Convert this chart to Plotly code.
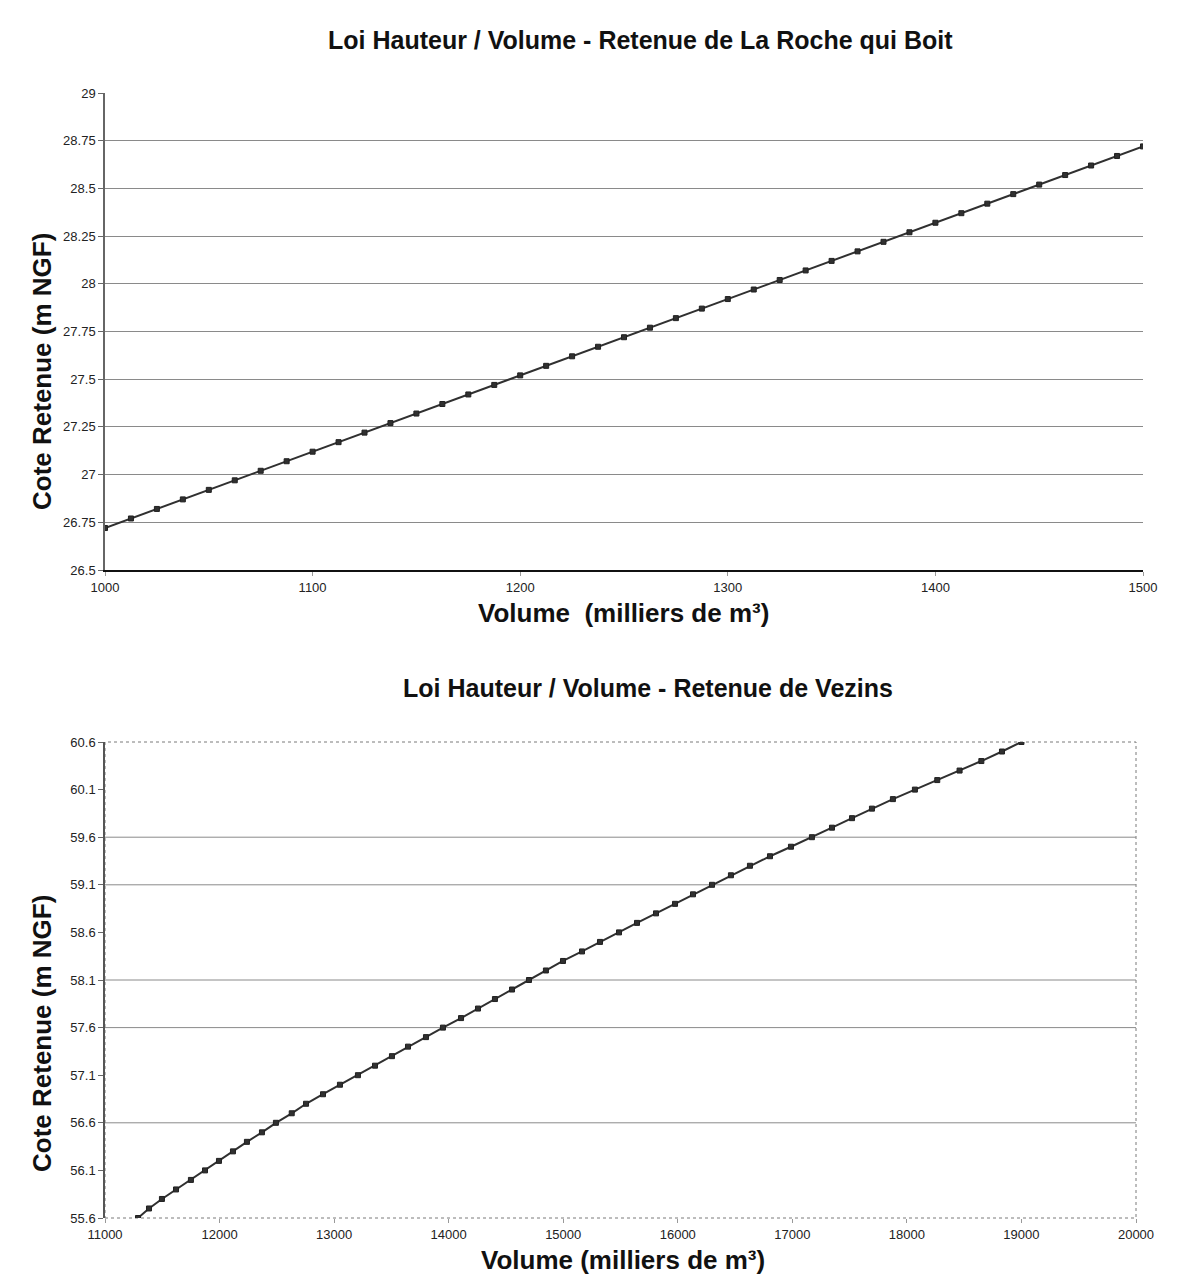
import plotly.graph_objects as go

# --- Retenue de La Roche qui Boit : volume (milliers de m3) / cote (m NGF)
roche_volume = [1000, 1012.5, 1025, 1037.5, 1050, 1062.5, 1075, 1087.5, 1100, 1112.5,
                1125, 1137.5, 1150, 1162.5, 1175, 1187.5, 1200, 1212.5, 1225, 1237.5,
                1250, 1262.5, 1275, 1287.5, 1300, 1312.5, 1325, 1337.5, 1350, 1362.5,
                1375, 1387.5, 1400, 1412.5, 1425, 1437.5, 1450, 1462.5, 1475, 1487.5, 1500]
roche_cote = [26.72, 26.77, 26.82, 26.87, 26.92, 26.97, 27.02, 27.07, 27.12, 27.17,
              27.22, 27.27, 27.32, 27.37, 27.42, 27.47, 27.52, 27.57, 27.62, 27.67,
              27.72, 27.77, 27.82, 27.87, 27.92, 27.97, 28.02, 28.07, 28.12, 28.17,
              28.22, 28.27, 28.32, 28.37, 28.42, 28.47, 28.52, 28.57, 28.62, 28.67, 28.72]
roche_yticks = [26.5, 26.75, 27, 27.25, 27.5, 27.75, 28, 28.25, 28.5, 28.75, 29]
roche_xticks = [1000, 1100, 1200, 1300, 1400, 1500]

# --- Retenue de Vezins
vezins_volume = [11288, 11384, 11497, 11620, 11750, 11873, 11995, 12117, 12239, 12370,
                 12492, 12630, 12755, 12903, 13051, 13208, 13357, 13505, 13645, 13802,
                 13950, 14108, 14256, 14404, 14553, 14701, 14849, 14998, 15164, 15321,
                 15487, 15644, 15810, 15976, 16133, 16299, 16464, 16630, 16805, 16988,
                 17171, 17346, 17521, 17695, 17878, 18070, 18265, 18460, 18650, 18830, 19000]
vezins_cote = [55.6, 55.7, 55.8, 55.9, 56.0, 56.1, 56.2, 56.3, 56.4, 56.5,
               56.6, 56.7, 56.8, 56.9, 57.0, 57.1, 57.2, 57.3, 57.4, 57.5,
               57.6, 57.7, 57.8, 57.9, 58.0, 58.1, 58.2, 58.3, 58.4, 58.5,
               58.6, 58.7, 58.8, 58.9, 59.0, 59.1, 59.2, 59.3, 59.4, 59.5,
               59.6, 59.7, 59.8, 59.9, 60.0, 60.1, 60.2, 60.3, 60.4, 60.5, 60.6]
vezins_yticks = [55.6, 56.1, 56.6, 57.1, 57.6, 58.1, 58.6, 59.1, 59.6, 60.1, 60.6]
vezins_xticks = [11000, 12000, 13000, 14000, 15000, 16000, 17000, 18000, 19000, 20000]
vezins_gridlines = [56.6, 57.6, 58.1, 59.1, 59.6]

FONT = "Liberation Sans, Arial, sans-serif"
TICK_FONT = dict(family=FONT, size=13, color="#222222")
W, H = 1204, 1275

fig = go.Figure()

line_style = dict(color="#303030", width=2)
marker_style = dict(symbol="square", size=5, color="#303030",
                    line=dict(color="#202020", width=1))

fig.add_trace(go.Scatter(x=roche_volume, y=roche_cote, mode="lines+markers",
                         line=line_style, marker=marker_style,
                         xaxis="x", yaxis="y", showlegend=False))
fig.add_trace(go.Scatter(x=vezins_volume, y=vezins_cote, mode="lines+markers",
                         line=line_style, marker=marker_style,
                         xaxis="x2", yaxis="y2", showlegend=False))

def px_x(p):
    return p / W

def px_y(p):
    return 1 - p / H

fig.update_layout(
    width=W, height=H,
    margin=dict(l=0, r=0, t=0, b=0, autoexpand=False),
    paper_bgcolor="white", plot_bgcolor="white",
    font=dict(family=FONT, color="#111111"),
    xaxis=dict(domain=[px_x(105), px_x(1143)], anchor="y", automargin=False,
               range=[1000, 1500], tickvals=roche_xticks,
               ticktext=[f"{v:g}" for v in roche_xticks],
               showgrid=False, zeroline=False,
               showline=True, linecolor="#111111", linewidth=2,
               ticks="outside", ticklen=4, tickcolor="#999999",
               tickfont=TICK_FONT),
    yaxis=dict(domain=[px_y(570), px_y(93)], anchor="x", automargin=False,
               range=[26.5, 29], tickvals=roche_yticks,
               ticktext=[f"{v:g}" for v in roche_yticks],
               showgrid=True, gridcolor="#8a8a8a", gridwidth=1, zeroline=False,
               showline=True, linecolor="#666666", linewidth=1.5,
               ticks="outside", ticklen=5, tickcolor="#666666",
               tickfont=TICK_FONT),
    xaxis2=dict(domain=[px_x(105), px_x(1136)], anchor="y2", automargin=False,
                range=[11000, 20000], tickvals=vezins_xticks,
                ticktext=[f"{v:g}" for v in vezins_xticks],
                showgrid=False, zeroline=False, showline=False,
                ticks="outside", ticklen=4, tickcolor="#999999",
                tickfont=TICK_FONT),
    yaxis2=dict(domain=[px_y(1218), px_y(742)], anchor="x2", automargin=False,
                range=[55.6, 60.6], tickvals=vezins_yticks,
                ticktext=[f"{v:g}" for v in vezins_yticks],
                showgrid=False, zeroline=False,
                showline=True, linecolor="#555555", linewidth=1.5,
                ticks="outside", ticklen=5, tickcolor="#666666",
                tickfont=TICK_FONT),
)

# Dashed frame around the Vezins plot area
fig.add_shape(type="rect", xref="x2 domain", yref="y2 domain",
              x0=0, x1=1, y0=0, y1=1, layer="below",
              line=dict(color="#7a7a7a", width=1, dash="dot"))
# Horizontal gridlines of the Vezins chart
for v in vezins_gridlines:
    fig.add_shape(type="line", xref="x2 domain", yref="y2",
                  x0=0, x1=1, y0=v, y1=v, layer="below",
                  line=dict(color="#8a8a8a", width=1))

TITLE_FONT = dict(family=FONT, size=25, color="#111111")
AXIS_FONT = dict(family=FONT, size=26, color="#111111")

annotations = [
    dict(text="<b>Loi Hauteur / Volume - Retenue de La Roche qui Boit</b>",
         x=px_x(640), y=px_y(40), font=TITLE_FONT),
    dict(text="<b>Volume  (milliers de m³)</b>",
         x=px_x(623), y=px_y(613), font=AXIS_FONT),
    dict(text="<b>Cote Retenue (m NGF)</b>", textangle=-90,
         x=px_x(42), y=px_y(372), font=AXIS_FONT),
    dict(text="<b>Loi Hauteur / Volume - Retenue de Vezins</b>",
         x=px_x(648), y=px_y(688), font=TITLE_FONT),
    dict(text="<b>Volume (milliers de m³)</b>",
         x=px_x(623), y=px_y(1260), font=AXIS_FONT),
    dict(text="<b>Cote Retenue (m NGF)</b>", textangle=-90,
         x=px_x(42), y=px_y(1034), font=AXIS_FONT),
]
for a in annotations:
    fig.add_annotation(xref="paper", yref="paper", showarrow=False,
                       xanchor="center", yanchor="middle", **a)

fig.write_html("out.html")
